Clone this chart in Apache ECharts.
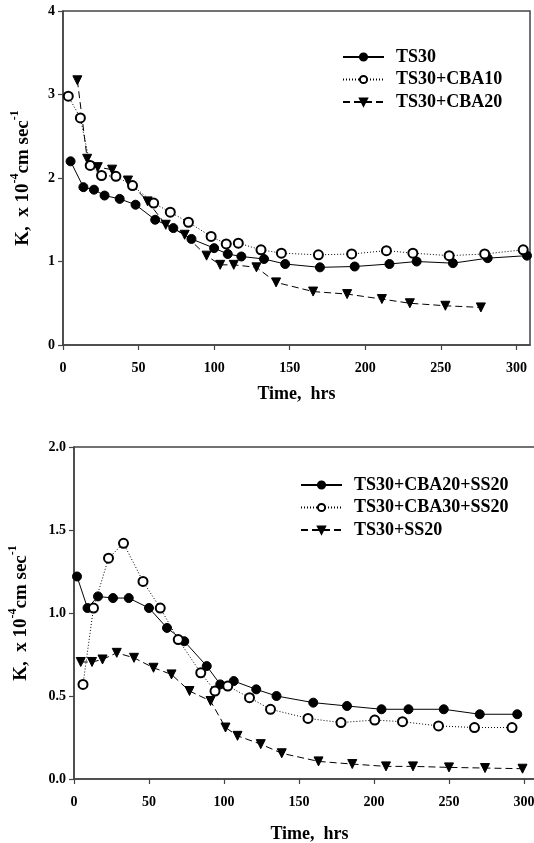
<!DOCTYPE html>
<html>
<head>
<meta charset="utf-8">
<script src="https://cdn.jsdelivr.net/npm/echarts@6/dist/echarts.min.js"></script>
<style>
  html, body { margin: 0; padding: 0; background: #fff; }
  #chart { width: 534px; height: 843px; }
</style>
</head>
<body>
<div id="chart"></div>
<script>
  // top panel
  var ts30Time = [5, 13.5, 20.5, 27.5, 37.5, 48, 61, 73, 85, 100, 109, 118, 133, 147, 170, 193, 216, 234, 258, 281, 307];
  var ts30K = [2.20, 1.89, 1.86, 1.79, 1.75, 1.68, 1.50, 1.40, 1.27, 1.16, 1.09, 1.06, 1.03, 0.97, 0.93, 0.94, 0.97, 1.00, 0.98, 1.04, 1.07];
  var cba10Time = [3.5, 11.5, 18, 25.5, 35, 46, 60, 71, 83, 98, 108, 116, 131, 144.5, 169, 191, 214, 231.5, 255.5, 279, 304.5];
  var cba10K = [2.98, 2.72, 2.15, 2.03, 2.02, 1.91, 1.70, 1.59, 1.47, 1.30, 1.21, 1.22, 1.14, 1.10, 1.08, 1.09, 1.13, 1.10, 1.07, 1.09, 1.14];
  var cba20Time = [9.5, 16, 23, 32.5, 43, 56, 68, 80.5, 95, 104, 113, 128, 141, 165.5, 188, 211, 229.5, 253, 276.5];
  var cba20K = [3.17, 2.23, 2.13, 2.10, 1.97, 1.72, 1.44, 1.32, 1.07, 0.96, 0.96, 0.93, 0.75, 0.64, 0.61, 0.55, 0.50, 0.47, 0.45];

  // bottom panel
  var cba20ssTime = [2, 9, 16, 26, 36.5, 50, 62, 73.5, 88.5, 97.5, 106.5, 121.5, 135, 159.5, 182, 205, 223, 246.5, 270.5, 295.5];
  var cba20ssK = [1.22, 1.03, 1.10, 1.09, 1.09, 1.03, 0.91, 0.83, 0.68, 0.57, 0.59, 0.54, 0.50, 0.46, 0.44, 0.42, 0.42, 0.42, 0.39, 0.39];
  var cba30ssTime = [6, 13, 23, 33, 46, 57.5, 69.5, 84.5, 94, 102.5, 117, 131, 156, 178, 200.5, 219, 243, 267, 292];
  var cba30ssK = [0.57, 1.03, 1.33, 1.42, 1.19, 1.03, 0.84, 0.64, 0.53, 0.56, 0.49, 0.42, 0.365, 0.34, 0.355, 0.345, 0.32, 0.31, 0.31];
  var ss20Time = [4.5, 12, 19, 28.5, 40, 53, 65, 77, 91, 101, 109, 124.5, 138.5, 163, 185.5, 208, 226, 250, 274, 299];
  var ss20K = [0.705, 0.705, 0.72, 0.76, 0.73, 0.67, 0.63, 0.53, 0.47, 0.31, 0.26, 0.21, 0.155, 0.106, 0.09, 0.076, 0.076, 0.07, 0.066, 0.062];

  var timeTicks = [0, 50, 100, 150, 200, 250, 300];
  var topNames = ['TS30', 'TS30+CBA10', 'TS30+CBA20'];
  var bottomNames = ['TS30+CBA20+SS20', 'TS30+CBA30+SS20', 'TS30+SS20'];

  function zip(xs, ys) {
    return xs.map(function (x, i) { return [x, ys[i]]; });
  }

  var FONT = 'Liberation Serif';
  var AX = '#444';

  var kName = '{b|K,  x 10}{s|-4}{b|cm sec}{s|-1}';
  var kRich = {
    b: { fontFamily: FONT, fontWeight: 'bold', fontSize: 19, color: '#000', lineHeight: 24, verticalAlign: 'bottom' },
    s: { fontFamily: FONT, fontWeight: 'bold', fontSize: 12, color: '#000', lineHeight: 24, verticalAlign: 'top' }
  };

  function xAxisCfg(idx, max, gap, margin) {
    return {
      type: 'value', gridIndex: idx, min: 0, max: max,
      name: 'Time,  hrs', nameLocation: 'middle', nameGap: gap,
      nameTextStyle: { fontFamily: FONT, fontWeight: 'bold', fontSize: 18, color: '#000' },
      axisLine: { lineStyle: { color: AX, width: 1.5 } },
      axisTick: { length: 5, customValues: timeTicks, lineStyle: { color: AX, width: 1.2 } },
      axisLabel: { customValues: timeTicks, margin: margin, fontFamily: FONT, fontWeight: 'bold', fontSize: 14, color: '#000' },
      splitLine: { show: false }
    };
  }

  function yAxisCfg(idx, max, interval, gap, digits) {
    return {
      type: 'value', gridIndex: idx, min: 0, max: max, interval: interval,
      name: kName, nameLocation: 'middle', nameGap: gap, nameRotate: 90,
      nameTextStyle: { rich: kRich },
      axisLine: { lineStyle: { color: AX, width: 1.5 } },
      axisTick: { length: 5, lineStyle: { color: AX, width: 1.2 } },
      axisLabel: {
        margin: 8, fontFamily: FONT, fontWeight: 'bold', fontSize: 14, color: '#000',
        formatter: function (v) { return v.toFixed(digits); }
      },
      splitLine: { show: false }
    };
  }

  function line(name, idx, data, symbol, dash) {
    return {
      name: name, type: 'line', xAxisIndex: idx, yAxisIndex: idx,
      data: data,
      symbol: symbol === 'tri' ? 'triangle' : symbol,
      symbolSize: 9,
      symbolRotate: symbol === 'tri' ? 180 : 0,
      itemStyle: { color: '#000', borderColor: '#000', borderWidth: 1 },
      lineStyle: { color: '#000', width: 1, type: dash },
      emphasis: { disabled: true },
      animation: false
    };
  }

  var legendText = { fontFamily: FONT, fontWeight: 'bold', fontSize: 18, color: '#000', padding: [0, 0, 0, 7] };

  var chart = echarts.init(document.getElementById('chart'));
  chart.setOption({
    backgroundColor: '#fff',
    animation: false,
    grid: [
      { left: 63, top: 11, width: 467, height: 334, outerBoundsMode: 'none', show: true, borderColor: AX, borderWidth: 1.5 },
      { left: 74, top: 447, width: 471, height: 332, outerBoundsMode: 'none', show: true, borderColor: AX, borderWidth: 1.5 }
    ],
    legend: [
      {
        data: topNames, orient: 'vertical', left: 342, top: 48, padding: 0,
        itemWidth: 41, itemHeight: 9, itemGap: 4.5, textStyle: legendText
      },
      {
        data: bottomNames, orient: 'vertical', left: 300, top: 476, padding: 0,
        itemWidth: 41, itemHeight: 9, itemGap: 4.5, textStyle: legendText
      }
    ],
    xAxis: [xAxisCfg(0, 309, 40, 16), xAxisCfg(1, 314, 46, 16)],
    yAxis: [yAxisCfg(0, 4, 1, 30, 0), yAxisCfg(1, 2, 0.5, 43, 1)],
    series: [
      line('TS30', 0, zip(ts30Time, ts30K), 'circle', 'solid'),
      line('TS30+CBA10', 0, zip(cba10Time, cba10K), 'emptyCircle', [1, 2]),
      line('TS30+CBA20', 0, zip(cba20Time, cba20K), 'tri', [7, 4]),
      line('TS30+CBA20+SS20', 1, zip(cba20ssTime, cba20ssK), 'circle', 'solid'),
      line('TS30+CBA30+SS20', 1, zip(cba30ssTime, cba30ssK), 'emptyCircle', [1, 2]),
      line('TS30+SS20', 1, zip(ss20Time, ss20K), 'tri', [7, 4])
    ]
  });
</script>
</body>
</html>
